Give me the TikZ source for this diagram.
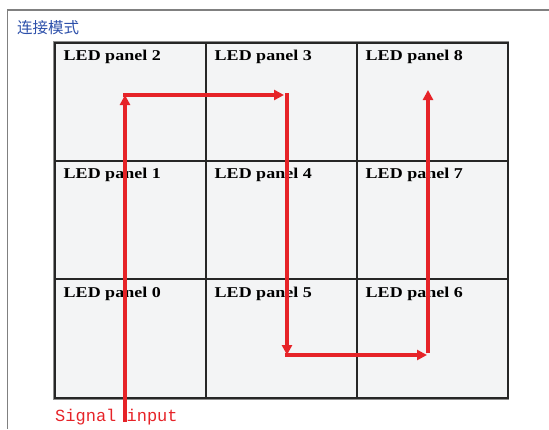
\documentclass[tikz,border=0pt]{standalone}
\usepackage{fontspec}
\setmainfont{Liberation Serif}
\newfontfamily\cjk{Noto Sans CJK SC}
\newfontfamily\monofont{Liberation Mono}
\usetikzlibrary{arrows.meta}

\definecolor{sigred}{RGB}{230,35,40}
\definecolor{titleblue}{RGB}{45,80,170}
\definecolor{cellgray}{RGB}{243,244,245}

\tikzset{
  panel/.style={draw=black!85, line width=2pt, fill=cellgray, minimum width=151pt, minimum height=118.3pt, inner sep=0pt},
  paneltext/.style={anchor=north west, inner sep=0pt, xscale=1.2, font=\bfseries\fontsize{15}{15}\selectfont},
  wire/.style={draw=sigred, line width=3.2pt, -{Triangle[length=10pt,width=10pt]}}
}

\begin{document}
\begin{tikzpicture}[x=1pt,y=-1pt]
        \useasboundingbox (0,0) rectangle (549,429);
        % frame
        \draw[gray, line width=1.2pt] (549,10) -- (7.5,10) -- (7.5,429);
        \node[anchor=west, text=titleblue, inner sep=0pt, font=\cjk\fontsize{15.5}{15.5}\selectfont] (title) at (17,28) {连接模式};
        % panels
        \draw[black!45, line width=3.6pt] (54.5,42.85) rectangle (507.5,397.75);
        \foreach \n/\c/\r in {2/0/0,3/1/0,8/2/0,1/0/1,4/1/1,7/2/1,0/0/2,5/1/2,6/2/2} {
          \node[panel] (p\n) at ({130+151*\c},{102+118.3*\r}) {};
          \node[paneltext] (t\n) at ([shift={(10pt,-8pt)}]p\n.north west) {LED panel \n};
        }
        % signal route
        \node[anchor=west, text=sigred, inner sep=0pt, font=\monofont\fontsize{17}{17}\selectfont] (sig) at (55,417) {Signal input};
        \coordinate (in) at (125,422);
        \coordinate (a) at (125,95);
        \coordinate (b) at (287,95);
        \coordinate (c) at (287,355);
        \coordinate (d) at (428,355);
        \coordinate (e) at (428,90);
        \draw[wire] (in) -- (a);
        \draw[wire] ([xshift=-1.6pt]a) -- ([xshift=-3pt]b);
        \draw[wire] ([yshift=1.6pt]b) -- (c);
        \draw[wire] ([xshift=-1.6pt]c) -- ([xshift=-1pt]d);
        \draw[wire] ([yshift=1.6pt]d) -- (e);
\end{tikzpicture}
\end{document}
